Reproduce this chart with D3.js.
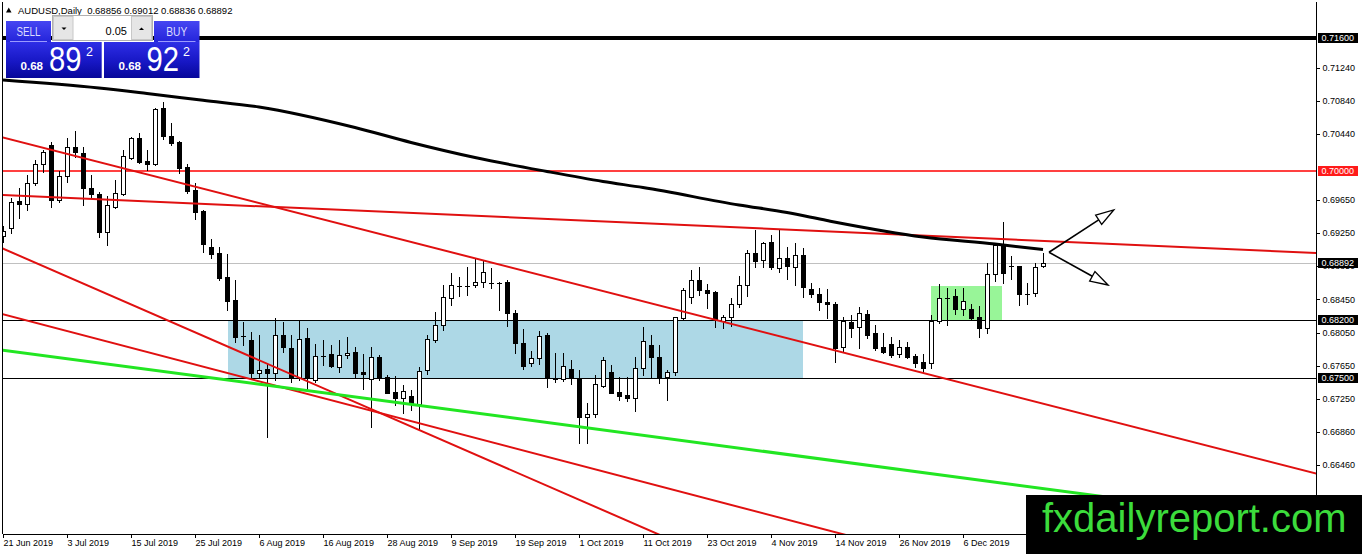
<!DOCTYPE html>
<html><head><meta charset="utf-8">
<script src="https://cdn.jsdelivr.net/npm/d3@7"></script>
<style>
html,body{margin:0;padding:0;background:#fff;overflow:hidden}
svg{display:block;font-family:"Liberation Sans",Arial,sans-serif}
</style>
</head><body>
<svg id="c" width="1362" height="554"></svg>
<script>
// ---------------- DATA ----------------
const symbol = "AUDUSD,Daily";
const lastQuote = [0.68856, 0.69012, 0.68836, 0.68892]; // O H L C of last bar
const bidPrice = 0.68892;
const askPrice = 0.68922;
const lotSize = "0.05";

const opens = [
.69214,.69310,.69635,.69599,.69852,.70080,.70309,.69647,.69936,.70285,
.70213,.69792,.69719,.69262,.69563,.69719,.70153,.70393,.70117,.70080,
.70754,.70417,.70345,.70044,.69768,.69515,.69082,.69009,.68721,.68444,
.68011,.67962,.67565,.67614,.67569,.68023,.67866,.67505,.67987,.67481,
.67770,.67794,.67641,.67778,.67818,.67577,.67493,.67758,.67517,.67337,
.67268,.67289,.67192,.67601,.67962,.68143,.68468,.68616,.68616,.68624,
.68660,.68648,.68652,.68660,.68287,.67923,.67682,.67742,.68023,.67493,
.67493,.67610,.67497,.67039,.67068,.67413,.67577,.67337,.67304,.67261,
.67622,.67899,.67762,.67521,.67581,.68231,.68484,.68685,.68564,.68544,
.68195,.68236,.68392,.68624,.69006,.68925,.69138,.68825,.68946,.68845,
.68985,.68573,.68512,.68416,.68396,.67875,.68175,.68115,.68275,.68043,
.67882,.67914,.67790,.67875,.67774,.67694,.67689,.68195,.68472,.68492,
.68332,.68336,.68236,.68103,.68753,.69106,.68853,.68853,.68516,.68524,
.68856];
const highs = [
.69334,.69671,.69792,.69948,.70129,.70249,.70345,.69996,.70393,.70478,
.70285,.69948,.69744,.69695,.69888,.70249,.70405,.70454,.70249,.70754,
.70827,.70574,.70357,.70080,.69852,.69527,.69178,.69082,.68997,.68685,
.68179,.68062,.68023,.67686,.68227,.68183,.68023,.68203,.68107,.67914,
.67962,.67902,.67962,.67999,.67882,.67794,.67882,.67782,.67541,.67529,
.67421,.67361,.67638,.68023,.68303,.68624,.68769,.68724,.68845,.68949,
.68917,.68829,.68664,.68685,.68324,.68091,.67830,.68071,.68050,.67810,
.67802,.67722,.67601,.67208,.67541,.67762,.67662,.67521,.67521,.67754,
.68115,.68023,.67902,.67601,.68243,.68585,.68805,.68845,.68636,.68556,
.68263,.68464,.68733,.69046,.69286,.69145,.69226,.69286,.69085,.69133,
.69066,.68652,.68585,.68573,.68423,.68236,.68263,.68356,.68324,.68143,
.68043,.67995,.67962,.67942,.67794,.67794,.68263,.68636,.68585,.68573,
.68585,.68396,.68372,.68893,.69133,.69386,.68973,.68853,.68645,.68885,
.69012];
const lows = [
.69142,.69250,.69431,.69527,.69828,.69984,.69563,.69623,.69864,.70165,
.69587,.69683,.69202,.69106,.69551,.69707,.70141,.70093,.70008,.70068,
.70381,.70309,.69972,.69731,.69419,.69021,.68949,.68685,.68324,.67938,
.67902,.67521,.67505,.66795,.67481,.67822,.67461,.67481,.67361,.67461,
.67662,.67638,.67581,.67746,.67521,.67373,.66916,.67481,.67325,.67180,
.67084,.67120,.66879,.67553,.67942,.68083,.68384,.68492,.68504,.68600,
.68597,.68588,.68324,.68131,.67810,.67610,.67653,.67674,.67400,.67461,
.67473,.67429,.66727,.66727,.67032,.67400,.67321,.67241,.67232,.67112,
.67541,.67521,.67441,.67241,.67541,.68203,.68411,.68504,.68344,.68115,
.68103,.68131,.68363,.68492,.68837,.68845,.68820,.68784,.68693,.68624,
.68484,.68476,.68324,.68224,.67701,.67822,.67995,.67863,.67983,.67842,
.67802,.67762,.67762,.67742,.67641,.67581,.67622,.68163,.68143,.68275,
.68263,.68212,.68002,.68050,.68672,.68645,.68697,.68384,.68392,.68496,
.68836];
const closes = [
.69274,.69623,.69599,.69852,.70080,.70225,.69647,.69936,.70285,.70225,
.69792,.69719,.69262,.69587,.69731,.70177,.70393,.70105,.70080,.70742,
.70417,.70333,.70032,.69756,.69503,.69118,.68997,.68709,.68432,.67999,
.67999,.67569,.67601,.67569,.68023,.67882,.67505,.67975,.67505,.67774,
.67758,.67653,.67782,.67810,.67569,.67553,.67758,.67505,.67328,.67268,
.67352,.67192,.67589,.67975,.68143,.68480,.68624,.68604,.68604,.68660,
.68784,.68636,.68640,.68287,.67926,.67653,.67742,.68014,.67509,.67481,
.67650,.67509,.67039,.67072,.67433,.67722,.67328,.67292,.67261,.67622,
.67947,.67754,.67521,.67581,.68236,.68564,.68685,.68564,.68532,.68215,
.68236,.68392,.68624,.69006,.68917,.69126,.68837,.68946,.68853,.68985,
.68604,.68512,.68416,.68392,.67863,.68195,.68103,.68284,.68023,.67870,
.67822,.67782,.67875,.67762,.67689,.67629,.68191,.68464,.68459,.68332,
.68428,.68224,.68103,.68753,.69106,.68765,.68841,.68512,.68504,.68845,
.68892];

// moving average (sampled bar index / value)
const maIndex  = [0, 12, 18, 25, 32, 44, 51, 59, 68, 75, 80, 92, 98, 103, 115, 124, 130];
const maValues = [0.71091,0.70995,0.70929,0.70847,0.70766,0.70519,0.70339,0.70158,0.69990,0.69870,0.69797,0.69587,0.69496,0.69400,0.69202,0.69117,0.69051];

// date axis
const dateLabels = ["21 Jun 2019","3 Jul 2019","15 Jul 2019","25 Jul 2019","6 Aug 2019","16 Aug 2019","28 Aug 2019","9 Sep 2019","19 Sep 2019","1 Oct 2019","11 Oct 2019","23 Oct 2019","4 Nov 2019","14 Nov 2019","26 Nov 2019","6 Dec 2019"];
const dateLabelIndex = [0,8,16,24,32,40,48,56,64,72,80,88,96,104,112,120];

// price axis
const priceTicks = [0.71240,0.70840,0.70440,0.69650,0.69250,0.68850,0.68450,0.68050,0.67650,0.67250,0.66860,0.66460,0.66060];
const levelPrices = [0.71600, 0.70000, 0.68200, 0.67500];
const levelColors = ["#000000", "#ff0000", "#000000", "#000000"];
const levelWidths = [4, 1.5, 1, 1];
const levelLabelBg = ["#000000", "#ff1a1a", "#000000", "#000000"];

// trend lines [barIndex, price]
const trendRedFlat   = [[0, 0.69707], [130, 0.69155]];
const trendRedUpper  = [[0, 0.70399], [100, 0.67935]];
const trendRedSteep  = [[0, 0.69062], [80, 0.65705]];
const trendRedLower  = [[0, 0.68273], [100, 0.65751]];
const trendGreen     = [[0, 0.67840], [130, 0.66175]];

// zones [fromIndex, toIndex, topPrice, bottomPrice]
const blueZone  = [28.1, 99.96, 0.68200, 0.67500];
const greenZone = [115.96, 124.93, 0.68612, 0.68200];

// arrows
const arrowStart = [130.75, 0.69018];
const arrowEnds  = [[138.84, 0.69527], [138.13, 0.68624]];

const watermark = "fxdailyreport.com";

// ---------------- DRAW ----------------
const svg = d3.select("#c");
const W = 1362, H = 554;
const plotL = 2.5, plotR = 1316, plotT = 2, plotB = 534;

const x = d3.scaleLinear().domain([0, 130]).range([3, 1043]);
const y = d3.scaleLinear().domain([0.716, 0.675]).range([37.7, 37.7 + 0.041 * 8310]);

const defs = svg.append("defs");
defs.append("clipPath").attr("id", "plot").append("rect")
  .attr("x", 3).attr("y", plotT).attr("width", plotR - 3).attr("height", plotB - plotT);

svg.append("rect").attr("width", W).attr("height", H).attr("fill", "#fff");

const g = svg.append("g").attr("clip-path", "url(#plot)");

// zones
[[blueZone, "#add8e6"], [greenZone, "#98f598"]].forEach(([z, col]) => {
  const x0 = Math.round(x(z[0])), x1 = Math.round(x(z[1]));
  const y0 = Math.round(y(z[2])), y1 = Math.round(y(z[3]));
  g.append("rect").attr("x", x0).attr("y", y0).attr("width", x1 - x0).attr("height", y1 - y0).attr("fill", col);
});

// current price line
g.append("line").attr("x1", 3).attr("x2", plotR)
  .attr("y1", Math.round(y(lastQuote[3])) + 0.5).attr("y2", Math.round(y(lastQuote[3])) + 0.5)
  .attr("stroke", "#c0c0c0").attr("stroke-width", 1);

// horizontal levels
levelPrices.forEach((p, k) => {
  const w = levelWidths[k];
  const yy = w === 1 ? Math.round(y(p)) + 0.5 : Math.round(y(p));
  g.append("line").attr("x1", 0).attr("x2", plotR).attr("y1", yy).attr("y2", yy)
    .attr("stroke", levelColors[k]).attr("stroke-width", w);
});

// candles
const bars = d3.range(opens.length);
const cg = g.append("g").attr("shape-rendering", "crispEdges");
bars.forEach(i => {
  const cx = Math.round(x(i));
  const o = opens[i], h = highs[i], l = lows[i], c = closes[i];
  cg.append("line").attr("x1", cx + 0.5).attr("x2", cx + 0.5)
    .attr("y1", Math.round(y(h))).attr("y2", Math.round(y(l)) + 1)
    .attr("stroke", "#000").attr("stroke-width", 1);
  const top = Math.round(y(Math.max(o, c))), bot = Math.round(y(Math.min(o, c)));
  const hgt = Math.max(1, bot - top);
  if (c > o) {
    cg.append("rect").attr("x", cx - 1.5).attr("y", top + 0.5).attr("width", 4).attr("height", Math.max(1, hgt))
      .attr("fill", "#fff").attr("stroke", "#000").attr("stroke-width", 1);
  } else {
    cg.append("rect").attr("x", cx - 2).attr("y", top).attr("width", 5).attr("height", hgt + (hgt === 1 ? 0 : 1))
      .attr("fill", "#000");
  }
});

// trend lines
function extend(pts) {
  const [[i0, p0], [i1, p1]] = pts;
  const s = (p1 - p0) / (i1 - i0);
  return [[-3, p0 + s * (-3 - i0)], [170, p0 + s * (170 - i0)]];
}
const tl = d3.line().x(d => x(d[0])).y(d => y(d[1]));
[[trendRedFlat, "#e01010", 2], [trendRedUpper, "#e01010", 2], [trendRedSteep, "#e01010", 2],
 [trendRedLower, "#e01010", 2], [trendGreen, "#22e622", 3]].forEach(([pts, col, w]) => {
  g.append("path").attr("d", tl(extend(pts))).attr("fill", "none").attr("stroke", col).attr("stroke-width", w);
});

// moving average
const maLine = d3.line().x(d => x(d[0])).y(d => y(d[1])).curve(d3.curveMonotoneX);
g.append("path").attr("d", maLine(maIndex.map((v, k) => [v, maValues[k]])))
  .attr("fill", "none").attr("stroke", "#000").attr("stroke-width", 3);

// arrows
arrowEnds.forEach(e => {
  const x0 = x(arrowStart[0]), y0 = y(arrowStart[1]), x1 = x(e[0]), y1 = y(e[1]);
  const ang = Math.atan2(y1 - y0, x1 - x0);
  const L = 18, hw = 5.5;
  const bx = x1 - L * Math.cos(ang), by = y1 - L * Math.sin(ang);
  g.append("line").attr("x1", x0).attr("y1", y0).attr("x2", bx).attr("y2", by)
    .attr("stroke", "#000").attr("stroke-width", 1.6);
  const px = -Math.sin(ang) * hw, py = Math.cos(ang) * hw;
  g.append("path").attr("d", `M${x1},${y1}L${bx + px},${by + py}L${bx - px},${by - py}Z`)
    .attr("fill", "#fff").attr("stroke", "#000").attr("stroke-width", 1.3);
});

// frame
const fr = svg.append("g").attr("shape-rendering", "crispEdges");
fr.append("line").attr("x1", plotL).attr("x2", plotL).attr("y1", plotT).attr("y2", plotB).attr("stroke", "#000");
fr.append("line").attr("x1", plotR + 0.5).attr("x2", plotR + 0.5).attr("y1", plotT).attr("y2", plotB).attr("stroke", "#000");
fr.append("line").attr("x1", plotL).attr("x2", plotR + 1).attr("y1", plotB + 0.5).attr("y2", plotB + 0.5).attr("stroke", "#000");

// date axis
dateLabelIndex.forEach((idx, k) => {
  const tx = Math.round(x(idx)) + 0.5;
  fr.append("line").attr("x1", tx).attr("x2", tx).attr("y1", plotB).attr("y2", plotB + 4).attr("stroke", "#000");
  svg.append("text").attr("x", tx).attr("y", 546.3).attr("font-size", 9).attr("fill", "#000").text(dateLabels[k]);
});

// price axis
priceTicks.forEach(p => {
  const ty = Math.round(y(p)) + 0.5;
  fr.append("line").attr("x1", plotR).attr("x2", plotR + 4).attr("y1", ty).attr("y2", ty).attr("stroke", "#000");
  svg.append("text").attr("x", 1322.5).attr("y", y(p) + 3.2).attr("font-size", 9).attr("fill", "#000").text(p.toFixed(5));
});
function priceBox(p, bg) {
  const cy = Math.round(y(p));
  svg.append("rect").attr("x", 1318).attr("y", cy - 5).attr("width", 40).attr("height", 10).attr("fill", bg);
  svg.append("text").attr("x", 1321.5).attr("y", cy + 3.3).attr("font-size", 9).attr("fill", "#fff").text(p.toFixed(5));
}
levelPrices.forEach((p, k) => priceBox(p, levelLabelBg[k]));
priceBox(lastQuote[3], "#000");

// header
svg.append("path").attr("d", "M6,12.5L11.5,12.5L8.75,7.5Z").attr("fill", "#000");
svg.append("text").attr("x", 18).attr("y", 13.5).attr("font-size", 9.5).attr("fill", "#000")
  .style("white-space", "pre").text(symbol + "  " + lastQuote.map(v => v.toFixed(5)).join(" "));

// trade panel
const btnGrad = defs.append("linearGradient").attr("id", "btnG").attr("x1", 0).attr("x2", 0).attr("y1", 0).attr("y2", 1);
btnGrad.append("stop").attr("offset", 0).attr("stop-color", "#4646f2");
btnGrad.append("stop").attr("offset", 1).attr("stop-color", "#2424da");
const boxGrad = defs.append("linearGradient").attr("id", "boxG").attr("x1", 0).attr("x2", 0).attr("y1", 0).attr("y2", 1);
boxGrad.append("stop").attr("offset", 0).attr("stop-color", "#2e2ee6");
boxGrad.append("stop").attr("offset", 0.55).attr("stop-color", "#1717c4");
boxGrad.append("stop").attr("offset", 1).attr("stop-color", "#07079a");

const pn = svg.append("g");
[[6, 45, "SELL"], [154, 45.5, "BUY"]].forEach(([bx, bw, label]) => {
  pn.append("rect").attr("x", bx).attr("y", 21).attr("width", bw).attr("height", 21).attr("fill", "url(#btnG)");
  pn.append("line").attr("x1", bx + 4).attr("x2", bx + bw - 4).attr("y1", 41.5).attr("y2", 41.5).attr("stroke", "#9a9aff").attr("stroke-width", 1);
  pn.append("text").attr("x", bx + bw / 2).attr("y", 35.5).attr("text-anchor", "middle").attr("font-size", 12.5)
    .attr("fill", "#dcdcff").attr("textLength", label === "SELL" ? 24 : 21).attr("lengthAdjust", "spacingAndGlyphs").text(label);
});
pn.append("rect").attr("x", 52.5).attr("y", 15.5).attr("width", 100).attr("height", 25).attr("fill", "#fff").attr("stroke", "#b0b0b0");
pn.append("rect").attr("x", 53.5).attr("y", 16.5).attr("width", 19.5).attr("height", 23).attr("fill", "#e6e6e6").attr("stroke", "#c8c8c8");
pn.append("rect").attr("x", 131.5).attr("y", 16.5).attr("width", 20).attr("height", 23).attr("fill", "#e6e6e6").attr("stroke", "#c8c8c8");
pn.append("path").attr("d", "M61.5,27.5L66.5,27.5L64,30Z").attr("fill", "#000");
pn.append("path").attr("d", "M139,30L144,30L141.5,27.5Z").attr("fill", "#000");
pn.append("text").attr("x", 127).attr("y", 34.5).attr("text-anchor", "end").attr("font-size", 11).attr("fill", "#000").text(lotSize);

function priceDisplay(bx, bw, price, xs) {
  pn.append("rect").attr("x", bx).attr("y", 42).attr("width", bw).attr("height", 36).attr("fill", "url(#boxG)");
  const s = price.toFixed(5);
  pn.append("text").attr("x", xs[0]).attr("y", 70).attr("font-size", 11).attr("font-weight", "bold").attr("fill", "#fff")
    .attr("textLength", 22.5).attr("lengthAdjust", "spacingAndGlyphs").text(s.slice(0, 4));
  pn.append("text").attr("x", xs[1]).attr("y", 70.7).attr("font-size", 35).attr("fill", "#fff")
    .attr("textLength", 32.5).attr("lengthAdjust", "spacingAndGlyphs").text(s.slice(4, 6));
  pn.append("text").attr("x", xs[2]).attr("y", 55.7).attr("font-size", 12.5).attr("fill", "#fff").text(s.slice(6));
}
priceDisplay(6, 95.7, bidPrice, [20.5, 49, 86]);
priceDisplay(104, 95.5, askPrice, [118.5, 146.5, 183]);

// watermark
svg.append("rect").attr("x", 1026).attr("y", 495).attr("width", W - 1026).attr("height", H - 495).attr("fill", "#000");
svg.append("text").attr("x", 1042).attr("y", 532).attr("font-size", 40).attr("fill", "#3cdc3c").text(watermark);
</script>
</body></html>
